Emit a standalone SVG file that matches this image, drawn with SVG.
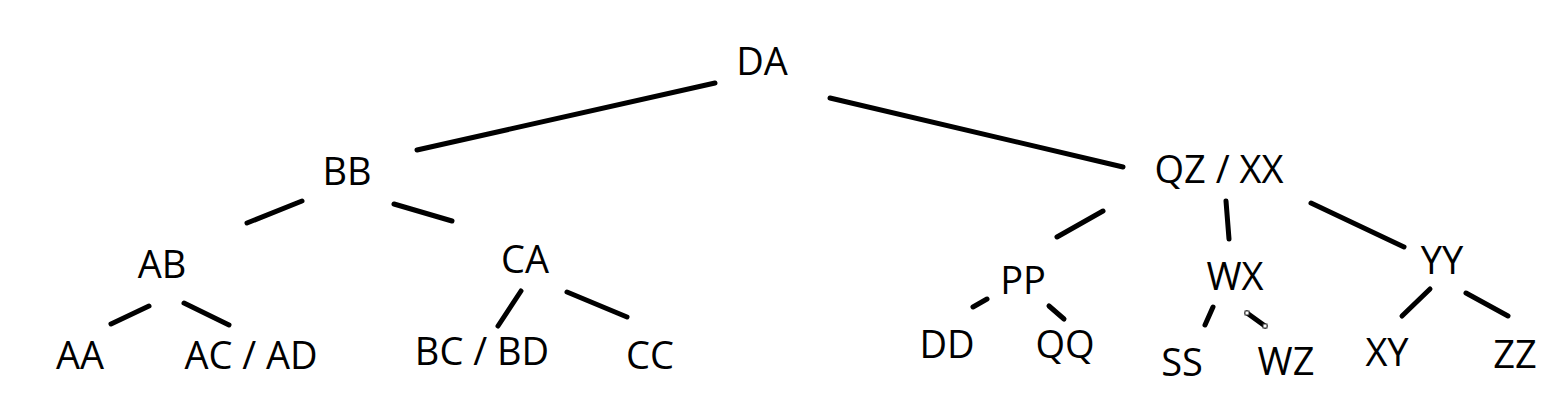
<svg xmlns="http://www.w3.org/2000/svg" width="1561" height="416" viewBox="0 0 1561 416">
<style>
.t{font-family:"Open Sans","Noto Sans","Liberation Sans",sans-serif;font-size:38px;fill:#000;text-anchor:middle}
.e{stroke:#000;stroke-width:5;stroke-linecap:round;fill:none}
.h{fill:#fff;stroke:#333;stroke-width:1}
</style>
<rect width="1561" height="416" fill="#fff"/>
<g id="connectors">
<line class="e" x1="417" y1="150" x2="715" y2="83"/>
<line class="e" x1="830" y1="98" x2="1123" y2="167"/>
<line class="e" x1="247" y1="223" x2="302" y2="201"/>
<line class="e" x1="394" y1="204" x2="452" y2="221"/>
<line class="e" x1="111" y1="324" x2="149" y2="306"/>
<line class="e" x1="184" y1="303" x2="229" y2="325"/>
<line class="e" x1="521" y1="291" x2="498" y2="326"/>
<line class="e" x1="567" y1="292" x2="627" y2="317"/>
<line class="e" x1="1057" y1="237" x2="1103" y2="211"/>
<line class="e" x1="1226" y1="201" x2="1229" y2="239"/>
<line class="e" x1="1311" y1="203" x2="1404" y2="247"/>
<line class="e" x1="973" y1="307" x2="987" y2="299"/>
<line class="e" x1="1049" y1="306" x2="1064" y2="319"/>
<line class="e" x1="1213" y1="307" x2="1205" y2="325"/>
<line class="e" x1="1247" y1="313" x2="1265" y2="326"/>
<line class="e" x1="1402" y1="316" x2="1430" y2="289"/>
<line class="e" x1="1466" y1="293" x2="1508" y2="316"/>
<rect class="h" x="1245" y="311" width="4" height="4"/>
<rect class="h" x="1263" y="324" width="4" height="4"/>
</g>
<g id="n-DA"><text class="t" x="762" y="75">DA</text></g>
<g id="n-BB"><text class="t" x="347" y="185">BB</text></g>
<g id="n-QZXX"><text class="t" x="1219" y="183">QZ / XX</text></g>
<g id="n-AB"><text class="t" x="162" y="278">AB</text></g>
<g id="n-CA"><text class="t" x="525" y="273">CA</text></g>
<g id="n-AA"><text class="t" x="80" y="369">AA</text></g>
<g id="n-ACAD"><text class="t" x="251" y="369">AC / AD</text></g>
<g id="n-BCBD"><text class="t" x="482" y="365">BC / BD</text></g>
<g id="n-CC"><text class="t" x="650" y="369">CC</text></g>
<g id="n-PP"><text class="t" x="1023" y="294">PP</text></g>
<g id="n-DD"><text class="t" x="947" y="358">DD</text></g>
<g id="n-QQ"><text class="t" x="1065" y="358">QQ</text></g>
<g id="n-WX"><text class="t" x="1235" y="290">WX</text></g>
<g id="n-YY"><text class="t" x="1442" y="274">YY</text></g>
<g id="n-SS"><text class="t" x="1182" y="376">SS</text></g>
<g id="n-WZ"><text class="t" x="1286" y="375">WZ</text></g>
<g id="n-XY"><text class="t" x="1387" y="366">XY</text></g>
<g id="n-ZZ"><text class="t" x="1515" y="368">ZZ</text></g>
</svg>
